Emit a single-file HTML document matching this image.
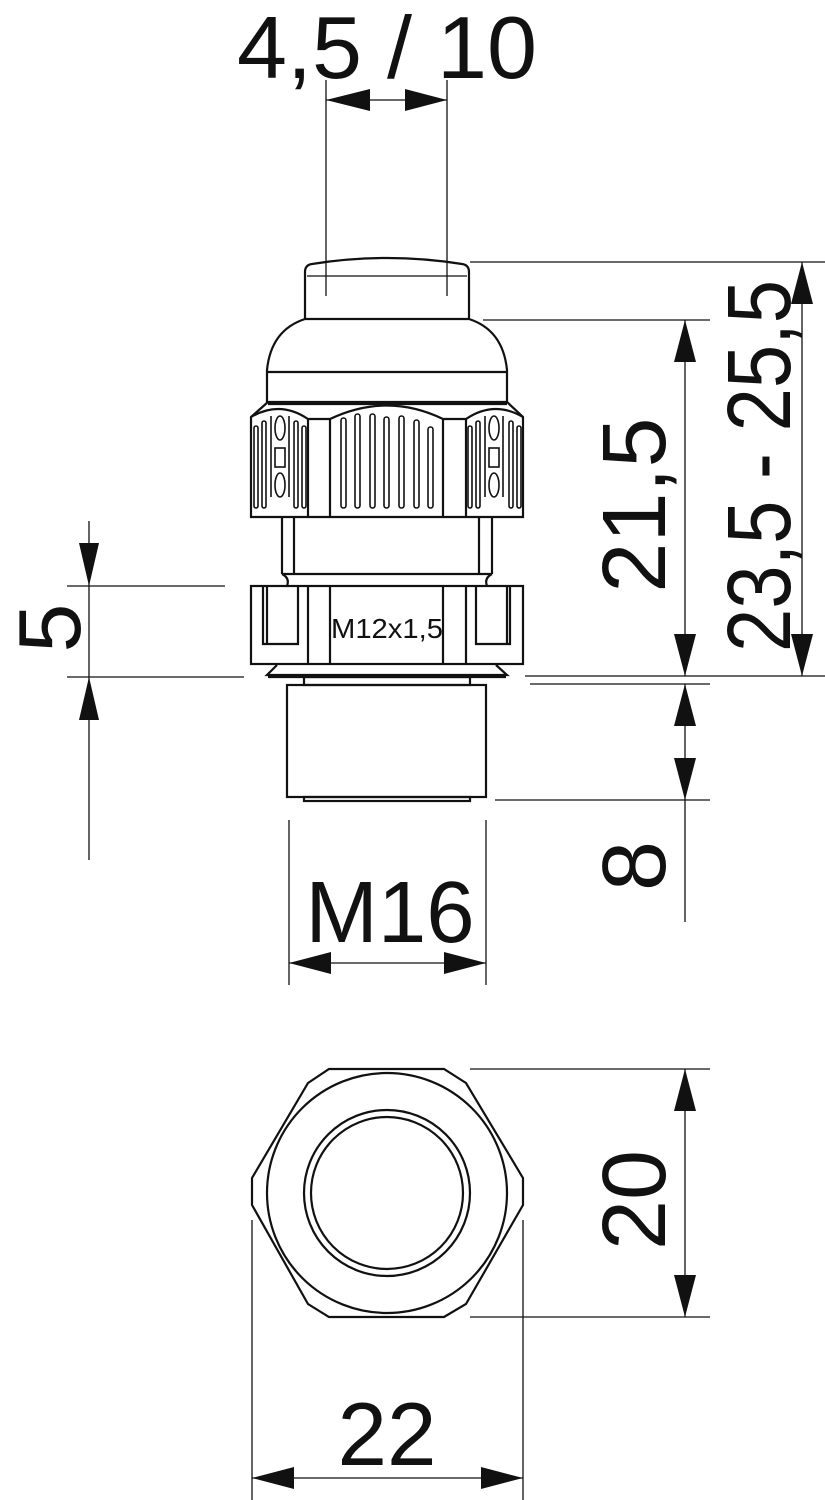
<!DOCTYPE html>
<html><head><meta charset="utf-8"><style>
html,body{margin:0;padding:0;background:#fff;}
svg{display:block;}
text{font-family:"Liberation Sans",Arial,sans-serif;fill:#111;}
</style></head><body>
<svg width="825" height="1500" viewBox="0 0 825 1500" xmlns="http://www.w3.org/2000/svg">
<g fill="none" stroke="#111" stroke-width="1.3">
<line x1="326" y1="80" x2="326" y2="296"/>
<line x1="447" y1="80" x2="447" y2="296"/>
<line x1="326" y1="100" x2="447" y2="100"/>
<line x1="470" y1="262" x2="825" y2="262"/>
<line x1="483" y1="320" x2="710" y2="320"/>
<line x1="525" y1="676" x2="825" y2="676"/>
<line x1="530" y1="684" x2="710" y2="684"/>
<line x1="495" y1="800" x2="710" y2="800"/>
<line x1="685" y1="320" x2="685" y2="676"/>
<line x1="802" y1="262" x2="802" y2="676"/>
<line x1="685" y1="684" x2="685" y2="922"/>
<line x1="67" y1="586" x2="225" y2="586"/>
<line x1="67" y1="677" x2="244" y2="677"/>
<line x1="89" y1="521" x2="89" y2="860"/>
<line x1="289" y1="820" x2="289" y2="985"/>
<line x1="486" y1="820" x2="486" y2="985"/>
<line x1="289" y1="963" x2="486" y2="963"/>
<line x1="470" y1="1069" x2="710" y2="1069"/>
<line x1="470" y1="1317" x2="710" y2="1317"/>
<line x1="685" y1="1069" x2="685" y2="1317"/>
<line x1="252" y1="1220" x2="252" y2="1500"/>
<line x1="523" y1="1220" x2="523" y2="1500"/>
<line x1="252" y1="1478" x2="523" y2="1478"/>
</g>
<g fill="#111" stroke="none">
<polygon points="326,100 370,89 370,111"/>
<polygon points="447,100 405,89 405,111"/>
<polygon points="685,320 674,362 696,362"/>
<polygon points="685,676 674,634 696,634"/>
<polygon points="802,262 791,304 813,304"/>
<polygon points="802,676 791,634 813,634"/>
<polygon points="685,684 674,726 696,726"/>
<polygon points="685,800 674,758 696,758"/>
<polygon points="89,586 79,543 99,543"/>
<polygon points="89,677 79,720 99,720"/>
<polygon points="289,963 331,952 331,974"/>
<polygon points="486,963 444,952 444,974"/>
<polygon points="685,1069 674,1111 696,1111"/>
<polygon points="685,1317 674,1275 696,1275"/>
<polygon points="252,1478 294,1467 294,1489"/>
<polygon points="523,1478 481,1467 481,1489"/>
</g>
<g fill="none" stroke="#111" stroke-width="2.2">
<path d="M305,319 L305,272 Q305,265 312,264 Q387,252 462,264 Q469,265 469,272 L469,319"/>
<line x1="307" y1="276" x2="467" y2="276" stroke-width="1.3"/>
<path d="M305,319 L469,319 Q503,330 507,370 L507,402 L267,402 L267,370 Q271,330 305,319 Z"/>
<line x1="267" y1="372" x2="507" y2="372"/>
<path d="M268,402 L251,417 L251,517 L523,517 L523,417 L507,402"/>
<line x1="268" y1="404" x2="507" y2="404"/>
<line x1="308" y1="419" x2="308" y2="517"/><line x1="330" y1="419" x2="330" y2="517"/>
<line x1="443" y1="419" x2="443" y2="517"/><line x1="466" y1="419" x2="466" y2="517"/>
<path d="M251,417 Q280,400 308,419 L330,419 Q387,392 443,419 L466,419 Q494,400 523,417"/>
</g>
<g fill="none" stroke="#111" stroke-width="1.6">
<rect x="341" y="418" width="5" height="90" rx="2.5"/>
<rect x="355" y="414" width="5" height="94" rx="2.5"/>
<rect x="370" y="414" width="5" height="94" rx="2.5"/>
<rect x="384" y="417" width="5" height="91" rx="2.5"/>
<rect x="399" y="416" width="5" height="92" rx="2.5"/>
<rect x="414" y="420" width="5" height="88" rx="2.5"/>
<rect x="428" y="427" width="5" height="81" rx="2.5"/>
<rect x="254" y="426" width="4" height="82" rx="2"/>
<rect x="262" y="421" width="4" height="87" rx="2"/>
<line x1="271" y1="416" x2="271" y2="497"/><line x1="289" y1="416" x2="289" y2="497"/>
<ellipse cx="280" cy="428" rx="5" ry="12"/><ellipse cx="280" cy="485" rx="5" ry="12"/>
<rect x="275" y="448" width="10" height="19"/>
<rect x="294" y="421" width="4" height="87" rx="2"/>
<rect x="302" y="426" width="4" height="82" rx="2"/>
<rect x="468" y="426" width="4" height="82" rx="2"/>
<rect x="476" y="421" width="4" height="87" rx="2"/>
<line x1="485" y1="416" x2="485" y2="497"/><line x1="503" y1="416" x2="503" y2="497"/>
<ellipse cx="494" cy="428" rx="5" ry="12"/><ellipse cx="494" cy="485" rx="5" ry="12"/>
<rect x="489" y="448" width="10" height="19"/>
<rect x="509" y="421" width="4" height="87" rx="2"/>
<rect x="517" y="426" width="4" height="82" rx="2"/>
</g>
<g fill="none" stroke="#111" stroke-width="2.2">
<line x1="282" y1="517" x2="282" y2="574"/><line x1="294" y1="517" x2="294" y2="574"/>
<line x1="479" y1="517" x2="479" y2="574"/><line x1="492" y1="517" x2="492" y2="574"/>
<path d="M282,574 L492,574"/>
<path d="M282,574 Q290,578 287,586"/><path d="M492,574 Q484,578 487,586"/>
<rect x="251" y="586" width="272" height="78"/>
<line x1="308" y1="586" x2="308" y2="664"/><line x1="330" y1="586" x2="330" y2="664"/>
<line x1="443" y1="586" x2="443" y2="664"/><line x1="466" y1="586" x2="466" y2="664"/>
<path d="M263,586 L263,644 L298,644 L298,586"/>
<line x1="267" y1="586" x2="267" y2="644"/>
<path d="M476,586 L476,644 L510,644 L510,586"/>
<line x1="507" y1="586" x2="507" y2="644"/>
<path d="M277,665 L267,675 L507,675 L496,665"/>
<line x1="268" y1="677" x2="506" y2="677"/>
<rect x="304" y="677" width="166" height="8"/>
<rect x="287" y="685" width="199" height="112"/>
<rect x="304" y="797" width="166" height="4"/>
<polygon points="329,1069 444,1069 466,1083 523,1178 523,1205 466,1304 444,1317 329,1317 308,1304 252,1205 252,1178 308,1083"/>
<circle cx="387" cy="1193" r="120"/>
<circle cx="387" cy="1193" r="83"/>
<circle cx="387" cy="1193" r="76"/>
</g>
<text x="331" y="638" font-size="28" textLength="112" lengthAdjust="spacingAndGlyphs">M12x1,5</text>
<text x="237" y="78" font-size="88" textLength="300" lengthAdjust="spacingAndGlyphs">4,5 / 10</text>
<text x="390" y="942" font-size="87" text-anchor="middle">M16</text>
<text x="387" y="1465" font-size="89" text-anchor="middle">22</text>
<text transform="translate(665,505) rotate(-90)" font-size="90" text-anchor="middle">21,5</text>
<text transform="translate(790,652) rotate(-90)" x="0" font-size="90" textLength="372" lengthAdjust="spacingAndGlyphs">23,5 - 25,5</text>
<text transform="translate(80,628) rotate(-90)" font-size="88" text-anchor="middle">5</text>
<text transform="translate(665,866) rotate(-90)" font-size="90" text-anchor="middle">8</text>
<text transform="translate(665,1200) rotate(-90)" font-size="90" text-anchor="middle">20</text>
</svg>
</body></html>
